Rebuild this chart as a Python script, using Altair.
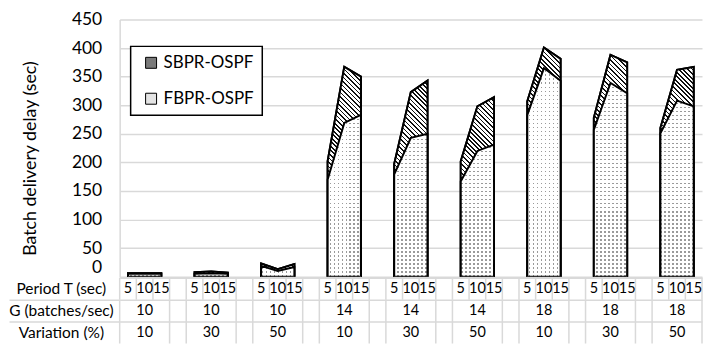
import math
import altair as alt
import pandas as pd

# ---- data ----
periods = ["5", "10", "15"]
g_values = [10, 10, 10, 14, 14, 14, 18, 18, 18]
variation = [10, 30, 50, 10, 30, 50, 10, 30, 50]
fbpr = [[5, 5, 5], [5, 6, 5], [19, 10, 17],
        [170, 269, 283], [179, 243, 250], [167, 220, 231],
        [283, 365, 343], [257, 339, 321], [251, 308, 298]]
sbpr = [[6, 6, 6], [8, 9, 7], [23, 13, 22],
        [202, 367, 350], [197, 323, 343], [202, 298, 314],
        [307, 401, 381], [278, 388, 375], [260, 362, 367]]
series = ["SBPR-OSPF", "FBPR-OSPF"]
row_names = ["Period T (sec)", "G (batches/sec)", "Variation (%)"]
y_ticks = list(range(0, 451, 50))

slots = len(periods) + 1          # 3 periods + one empty spacer category
n_groups = len(g_values)
x_max = n_groups * slots - 1      # last spacer category falls outside the view
row_max = 3
Y_MAX = 450

FONT = "Lato"
W = 584
TOP_H = 258
TABLE_H = 66
GRID = "#d9d9d9"

# ---- area data (spacer categories left empty -> breaks in the area) ----
recs = []
for g in range(n_groups):
    for c in range(slots):
        pos = g * slots + c + 0.5
        for s, vals in zip(series, (sbpr, fbpr)):
            v = vals[g][c] if c < len(periods) else None
            recs.append({"pos": pos, "series": s, "value": v})
area_df = pd.DataFrame(recs)

# ---- table data ----
cells = []
for g in range(n_groups):
    for c, p in enumerate(periods):
        cells.append({"pos": g * slots + c + 0.5, "row": 0.5, "label": p})
    mid = g * slots + len(periods) / 2
    cells.append({"pos": mid, "row": 1.5, "label": str(g_values[g])})
    cells.append({"pos": mid, "row": 2.5, "label": str(variation[g])})
cell_df = pd.DataFrame(cells)

lines = []
for i in range(x_max + 1):
    lines.append({"pos": i, "y1": 0, "y2": 1})
for g in range(n_groups):
    for b in (g * slots, g * slots + len(periods)):
        lines.append({"pos": b, "y1": 1, "y2": row_max})
line_df = pd.DataFrame(lines)


# ---- fill patterns emulated with striped gradients ----
def stripes(n, ink, ink_color, paper="#ffffff"):
    out = []
    for i in range(n):
        a, b = i / n, (i + 1) / n
        m = (i + 1 - ink) / n
        out += [{"offset": a, "color": paper}, {"offset": m, "color": paper},
                {"offset": m, "color": ink_color}, {"offset": b, "color": ink_color}]
    return out


def hatch_gradient(bw, bh, period=3.2):
    # downward diagonal lines at 45 degrees in screen space
    r = bh / bw
    k = (1 + r) / (1 + r * r)
    n = max(1, round((bw + bh) / math.sqrt(2) / period))
    return {"gradient": "linear", "x1": 0.0, "y1": 1.0, "x2": k, "y2": 1.0 - r * k,
            "stops": stripes(n, 0.36, "#111111")}


def line_gradient(length, horizontal, ink_color, paper, period=4.0, ink=0.4):
    n = max(1, round(length / period))
    g = {"gradient": "linear", "stops": stripes(n, ink, ink_color, paper)}
    if horizontal:
        g.update({"x1": 0.0, "y1": 0.0, "x2": 1.0, "y2": 0.0})
    else:
        g.update({"x1": 0.0, "y1": 0.0, "x2": 0.0, "y2": 1.0})
    return g


all_pos = [g * slots + c + 0.5 for g in range(n_groups) for c in range(len(periods))]
bbox_w = (max(all_pos) - min(all_pos)) / x_max * W
sb_h = max(max(v) for v in sbpr) / Y_MAX * TOP_H
fb_h = max(max(v) for v in fbpr) / Y_MAX * TOP_H
hatch = hatch_gradient(bbox_w, sb_h)
# dotted fill: grey columns, then a white mask that is open only along thin rows
dot_cols = line_gradient(bbox_w, True, "#9a9a9a", "#ffffff")
dot_mask = line_gradient(fb_h, False, "rgba(255,255,255,0)", "#ffffff")

x_enc = alt.X("pos:Q", scale=alt.Scale(domain=[0, x_max], nice=False, zero=False), axis=None)

y_enc = alt.Y(
    "value:Q",
    stack=False,
    scale=alt.Scale(domain=[0, Y_MAX], nice=False),
    axis=alt.Axis(
        values=y_ticks,
        title="Batch delivery delay (sec)",
        titleFont=FONT, titleFontSize=17.8, titleFontWeight="normal", titleColor="black",
        titleX=-89, titleY=139, titleBaseline="middle", titleAlign="center",
        labelFont=FONT, labelFontSize=17.5, labelColor="black",
        labelPadding=18, ticks=False, tickSize=0,
        labelBaseline={"condition": {"test": "datum.value == 0", "value": "bottom"}, "value": "middle"},
        grid=True, gridColor=GRID, gridWidth=1.5,
        domain=True, domainColor=GRID, domainWidth=1.5,
    ),
)

color_enc = alt.Color(
    "series:N",
    scale=alt.Scale(domain=series, range=["#7a7a7a", "#e4e4e4"]),
    legend=alt.Legend(
        title=None, orient="none", legendX=11, legendY=27, direction="vertical",
        fillColor="white", strokeColor="black", padding=8, rowPadding=18,
        symbolType="square", symbolSize=121, symbolStrokeColor="black",
        symbolStrokeWidth=1, symbolOffset=4, labelFont=FONT, labelFontSize=17,
        labelColor="black", labelOffset=4, labelExpr="datum.label + '   '",
    ),
)

common = dict(orient="vertical", opacity=1, clip=True, invalid="break-paths-show-domains")
outlined = dict(stroke="black", strokeWidth=2, **common)

base = alt.Chart(area_df).encode(x=x_enc, y=y_enc)
is_sb = alt.datum.series == series[0]
is_fb = alt.datum.series == series[1]
sb = base.transform_filter(is_sb)
fb = base.transform_filter(is_fb)

sb_flat = sb.mark_area(fillOpacity=1, **outlined).encode(color=color_enc)
sb_hatch = sb.mark_area(fill=hatch, fillOpacity=1, **outlined)
fb_flat = fb.mark_area(fillOpacity=1, **common).encode(color=color_enc)
fb_cols = fb.mark_area(fill=dot_cols, fillOpacity=1, strokeWidth=0, **common)
fb_mask = fb.mark_area(fill=dot_mask, fillOpacity=1, strokeWidth=0, **common)
fb_line = fb.mark_area(fill="white", fillOpacity=0, **outlined)

top = alt.layer(sb_flat, sb_hatch, fb_flat, fb_cols, fb_mask, fb_line).properties(
    width=W, height=TOP_H)

# ---- table panel ----
row_px = TABLE_H / row_max
label_expr = "[" + ",".join("'" + r + "'" for r in row_names) + "][datum.value]"
table_axis = alt.Axis(
    values=[0, 1, 2], labelExpr=label_expr, title=None,
    labelFont=FONT, labelFontSize=15.5, labelColor="black",
    labelAlign="center", labelPadding=-52, labelOffset=row_px / 2,
    ticks=True, tickSize=111, tickColor=GRID, tickWidth=1.5,
    tickOpacity={"condition": {"test": "datum.value == 0", "value": 0}, "value": 1},
    grid=True, gridColor=GRID, gridWidth=1.5, domain=False,
)
ty_scale = alt.Scale(domain=[0, row_max], reverse=True, nice=False)

rules = alt.Chart(line_df).mark_rule(color=GRID, strokeWidth=1.5).encode(
    x=x_enc,
    y=alt.Y("y1:Q", scale=ty_scale, axis=table_axis),
    y2="y2:Q",
)
texts = alt.Chart(cell_df).mark_text(font=FONT, fontSize=14.5, color="black").encode(
    x=x_enc,
    y=alt.Y("row:Q", scale=ty_scale, axis=table_axis),
    text="label:N",
)
table = alt.layer(rules, texts).properties(width=W, height=TABLE_H)

chart = alt.vconcat(top, table, spacing=0).properties(
    padding={"left": 0, "top": 2, "right": 0, "bottom": 0}
).configure_view(stroke=None).configure_legend(strokeWidth=1.5)

chart.save("out.html", embed_options={"renderer": "svg", "actions": False})
